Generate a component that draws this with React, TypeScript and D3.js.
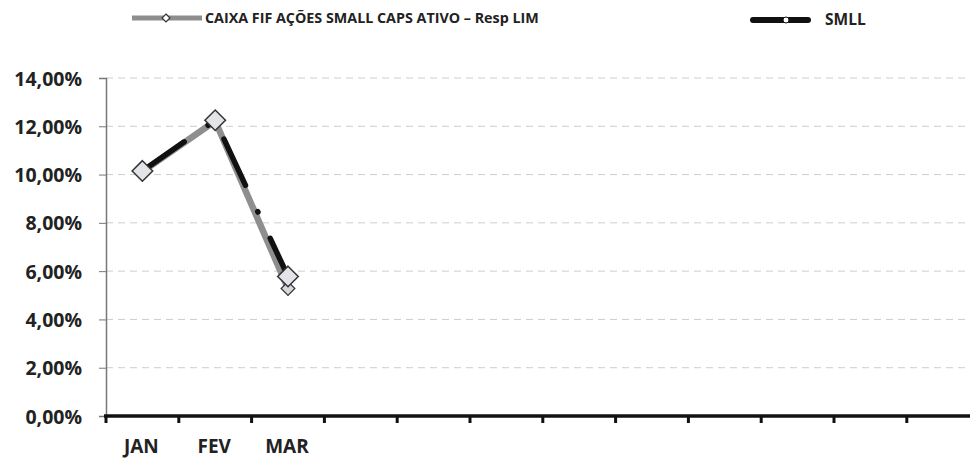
import React, { useEffect, useRef } from 'react';
import * as d3 from 'd3';

const months = ['JAN', 'FEV', 'MAR', '', '', '', '', '', '', '', '', ''];
const yTicks = [0, 0.02, 0.04, 0.06, 0.08, 0.1, 0.12, 0.14];
const caixa = [0.1012, 0.1222, 0.0528];
const smll = [0.1015, 0.1225, 0.0578];
const caixaName = 'CAIXA FIF AÇÕES SMALL CAPS ATIVO – Resp LIM';
const smllName = 'SMLL';

const App: React.FC = () => {
  const ref = useRef<SVGSVGElement>(null);

  useEffect(() => {
    if (!ref.current) return;
    const svg = d3.select(ref.current);
    svg.selectAll('*').remove();

    const font = "'Open Sans', 'DejaVu Sans', sans-serif";
    const left = 106;
    const step = 72.8;

    const x = d3.scaleBand<number>()
      .domain(d3.range(months.length))
      .range([left, left + step * months.length]);
    const y = d3.scaleLinear().domain([0, 0.14]).range([416, 78]);
    const cx = (i: number) => (x(i) as number) + x.bandwidth() / 2;

    // gridlines
    svg.append('g')
      .selectAll('line')
      .data(yTicks.filter(t => t > 0))
      .join('line')
      .attr('x1', left)
      .attr('x2', 970)
      .attr('y1', d => y(d))
      .attr('y2', d => y(d))
      .attr('stroke', '#cdcdcd')
      .attr('stroke-width', 1)
      .attr('stroke-dasharray', '7 5');

    // y axis
    const yAxis = svg.append('g')
      .attr('transform', `translate(${left},0)`)
      .call(d3.axisLeft(y).tickValues(yTicks).tickSize(7)
        .tickFormat(d => (d as number * 100).toFixed(2).replace('.', ',') + '%'));
    yAxis.select('.domain').attr('stroke', '#777').attr('stroke-width', 1.5);
    yAxis.selectAll('.tick line').attr('stroke', '#777');
    yAxis.selectAll('.tick text')
      .attr('x', -24)
      .attr('dy', '0.36em')
      .attr('fill', '#222')
      .style('font-family', font)
      .style('font-size', '19.5px')
      .style('font-weight', 'bold');

    // x axis
    const xAxis = svg.append('g').attr('transform', 'translate(0,416)');
    xAxis.append('line')
      .attr('x1', left - 2)
      .attr('x2', 970)
      .attr('stroke', '#111')
      .attr('stroke-width', 3.5);
    xAxis.selectAll('line.tk')
      .data(d3.range(months.length + 1))
      .join('line')
      .attr('class', 'tk')
      .attr('x1', i => left + i * step)
      .attr('x2', i => left + i * step)
      .attr('y1', 0)
      .attr('y2', 7)
      .attr('stroke', '#111')
      .attr('stroke-width', 3);
    xAxis.selectAll('text')
      .data(months)
      .join('text')
      .attr('x', (_, i) => cx(i) - 1)
      .attr('y', 37)
      .attr('text-anchor', 'middle')
      .attr('fill', '#222')
      .style('font-family', font)
      .style('font-size', '19px')
      .style('font-weight', 'bold')
      .text(d => d);

    const line = d3.line<number>().x((_, i) => cx(i)).y(d => y(d));
    const diamond = (size: number) => d3.symbol().type(d3.symbolDiamond2).size(size)();

    // CAIXA series
    svg.append('path')
      .attr('d', line(caixa))
      .attr('fill', 'none')
      .attr('stroke', '#8e8e8e')
      .attr('stroke-width', 6.5);
    svg.selectAll('path.mc')
      .data(caixa)
      .join('path')
      .attr('class', 'mc')
      .attr('transform', (d, i) => `translate(${cx(i)},${y(d)})`)
      .attr('d', diamond(120))
      .attr('fill', '#d6d8dc')
      .attr('stroke', '#333')
      .attr('stroke-width', 1.2);

    // SMLL series
    svg.append('path')
      .attr('d', line(smll))
      .attr('fill', 'none')
      .attr('stroke', '#111')
      .attr('stroke-width', 5.5)
      .attr('stroke-linecap', 'round')
      .attr('stroke-dasharray', '51 29 0.5 29');
    svg.selectAll('path.ms')
      .data(smll)
      .join('path')
      .attr('class', 'ms')
      .attr('transform', (d, i) => `translate(${cx(i)},${y(d)})`)
      .attr('d', diamond(270))
      .attr('fill', '#e2e4e8')
      .attr('stroke', '#333')
      .attr('stroke-width', 1.5);

    // legend
    const lg = svg.append('g');
    lg.append('line')
      .attr('x1', 132).attr('x2', 202).attr('y1', 18).attr('y2', 18)
      .attr('stroke', '#8e8e8e').attr('stroke-width', 5);
    lg.append('path')
      .attr('transform', 'translate(166,18)')
      .attr('d', diamond(40))
      .attr('fill', '#fff').attr('stroke', '#333').attr('stroke-width', 1.2);
    lg.append('text')
      .attr('x', 205).attr('y', 23)
      .attr('fill', '#222')
      .style('font-family', font)
      .style('font-size', '14.3px')
      .style('font-weight', 'bold')
      .text(caixaName);
    lg.append('line')
      .attr('x1', 753).attr('x2', 808).attr('y1', 20).attr('y2', 20)
      .attr('stroke', '#111').attr('stroke-width', 6).attr('stroke-linecap', 'round');
    lg.append('circle')
      .attr('cx', 786).attr('cy', 20).attr('r', 3)
      .attr('fill', '#fff').attr('stroke', '#111').attr('stroke-width', 1);
    lg.append('text')
      .attr('x', 825).attr('y', 25)
      .attr('fill', '#222')
      .style('font-family', font)
      .style('font-size', '15.5px')
      .style('font-weight', 'bold')
      .text(smllName);
  }, []);

  return (
    <svg
      ref={ref}
      width={970}
      height={460}
      style={{ position: 'absolute', left: 0, top: 0, background: '#fff' }}
    />
  );
};

export default App;
